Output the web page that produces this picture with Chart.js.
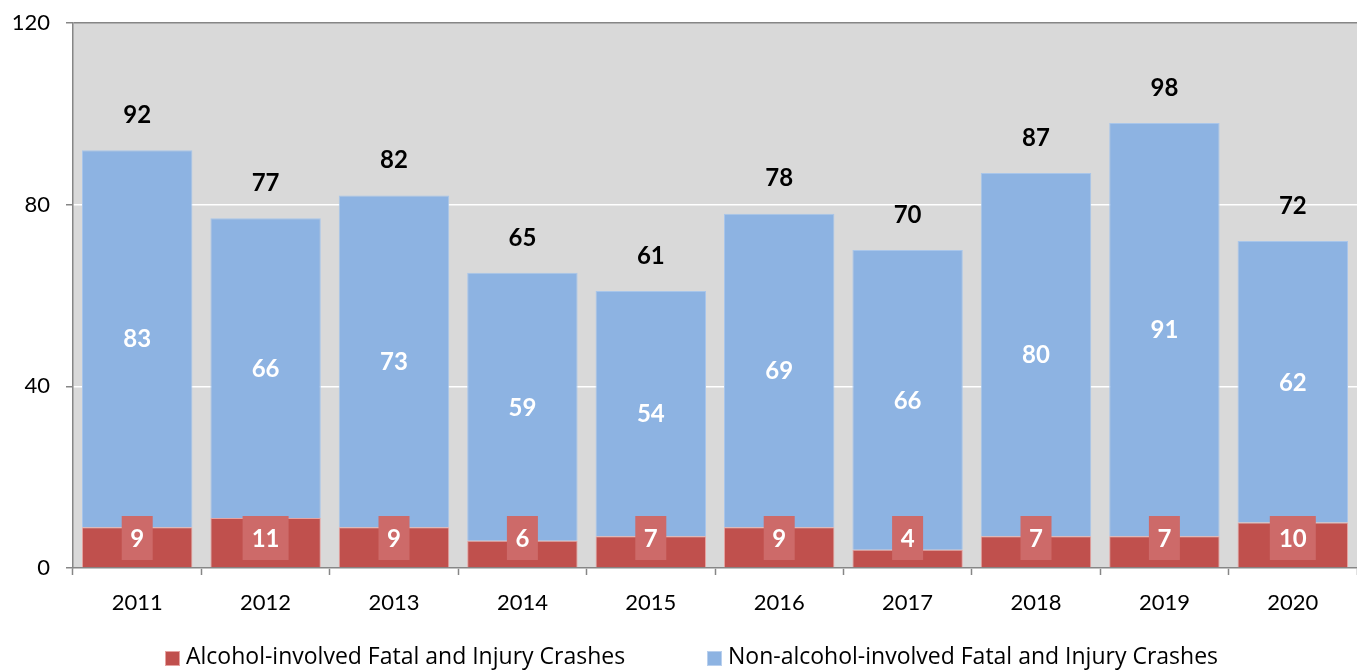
<!DOCTYPE html>
<html>
<head>
<meta charset="utf-8">
<script src="https://cdn.jsdelivr.net/npm/chart.js@4"></script>
<style>
  html, body { margin: 0; padding: 0; background: #fff; }
  #wrap { width: 1357px; height: 671px; }
</style>
</head>
<body>
<div id="wrap"><canvas id="crashChart"></canvas></div>
<script>
const years = ['2011', '2012', '2013', '2014', '2015', '2016', '2017', '2018', '2019', '2020'];
const alcohol = [9, 11, 9, 6, 7, 9, 4, 7, 7, 10];
const nonAlcohol = [83, 66, 73, 59, 54, 69, 66, 80, 91, 62];
const yTicks = [0, 40, 80, 120];
const seriesNames = ['Alcohol-involved Fatal and Injury Crashes', 'Non-alcohol-involved Fatal and Injury Crashes'];

const FONT = 'Lato, "Noto Sans", sans-serif';
const LEGEND_FONT = '"Open Sans", "Noto Sans", sans-serif';
const AXIS = '#868686';

// grey plot area behind the bars
const plotBackground = {
  id: 'plotBackground',
  beforeDraw(chart) {
    const { ctx, chartArea: a } = chart;
    ctx.save();
    ctx.fillStyle = '#d9d9d9';
    ctx.fillRect(a.left, a.top, a.right - a.left, a.bottom - a.top);
    ctx.restore();
  }
};

// value labels: red boxes near the base, white in blue segment, totals above
const barLabels = {
  id: 'barLabels',
  afterDatasetsDraw(chart) {
    const { ctx } = chart;
    const y = chart.scales.y;
    const red = chart.getDatasetMeta(0).data;
    ctx.save();
    ctx.textAlign = 'center';
    ctx.textBaseline = 'middle';
    ctx.font = 'bold 24px ' + FONT;
    years.forEach((yr, i) => {
      const x = red[i].x;
      // red label box
      const txt = String(alcohol[i]);
      const w = txt.length > 1 ? 46 : 31;
      const cy = y.getPixelForValue(0) - 30;
      ctx.fillStyle = '#cd6a69';
      ctx.fillRect(x - w / 2, cy - 22, w, 44);
      ctx.fillStyle = '#ffffff';
      ctx.fillText(txt, x, cy + 1);
      // blue label
      const mid = y.getPixelForValue(alcohol[i] + nonAlcohol[i] / 2);
      ctx.fillText(String(nonAlcohol[i]), x, mid + 1);
      // total
      const total = alcohol[i] + nonAlcohol[i];
      ctx.fillStyle = '#000000';
      ctx.fillText(String(total), x, y.getPixelForValue(total) - 35);
    });
    ctx.restore();
  }
};

// legend along the bottom
const bottomLegend = {
  id: 'bottomLegend',
  afterDraw(chart) {
    const { ctx } = chart;
    const items = [
      { x: 165, color: '#c0504d', border: '#e6a3a1', text: seriesNames[0] },
      { x: 707, color: '#8db3e2', border: '#b9d0ee', text: seriesNames[1] }
    ];
    ctx.save();
    ctx.font = '23px ' + LEGEND_FONT;
    ctx.textBaseline = 'middle';
    ctx.textAlign = 'left';
    items.forEach(it => {
      ctx.fillStyle = it.color;
      ctx.fillRect(it.x, 651, 15, 15);
      ctx.strokeStyle = it.border;
      ctx.lineWidth = 1;
      ctx.strokeRect(it.x + 0.5, 651.5, 14, 14);
      ctx.fillStyle = '#000';
      ctx.fillText(it.text, it.x + 21, 657);
    });
    ctx.restore();
  }
};

const ctx = document.getElementById('crashChart').getContext('2d');
const crashChart = new Chart(ctx, {
  type: 'bar',
  data: {
    labels: years,
    datasets: [{
      label: seriesNames[0],
      data: alcohol,
      backgroundColor: '#c0504d',
      borderColor: '#e6a3a1',
      borderWidth: 1
    }, {
      label: seriesNames[1],
      data: nonAlcohol,
      backgroundColor: '#8db3e2',
      borderColor: '#a9c6ea',
      borderWidth: 1
    }]
  },
  options: {
    responsive: true,
    maintainAspectRatio: false,
    animation: false,
    datasets: {
      bar: { barPercentage: 0.86, categoryPercentage: 1 }
    },
    layout: { padding: { top: 23, right: 0, left: 0, bottom: 0 } },
    plugins: {
      legend: { display: false },
      tooltip: { enabled: false }
    },
    scales: {
      x: {
        stacked: true,
        grid: { drawOnChartArea: false, tickLength: 7, tickColor: AXIS, tickWidth: 1.5 },
        border: { color: AXIS, width: 1.5 },
        ticks: { color: '#000', font: { family: FONT, size: 22 }, padding: 15 },
        afterFit(scale) { scale.height = 103; scale.paddingLeft = 0; scale.paddingRight = 0; }
      },
      y: {
        stacked: true,
        min: 0,
        max: 120,
        afterBuildTicks(scale) { scale.ticks = yTicks.map(v => ({ value: v })); },
        grid: {
          color: c => (c.tick && c.tick.value === 120 ? AXIS : '#ffffff'),
          lineWidth: 1.5,
          tickLength: 7,
          tickColor: AXIS
        },
        border: { color: AXIS, width: 1.5 },
        ticks: { color: '#000', font: { family: FONT, size: 22 }, padding: 16 },
        afterFit(scale) { scale.width = 73; scale.paddingTop = 0; scale.paddingBottom = 0; }
      }
    }
  },
  plugins: [plotBackground, barLabels, bottomLegend]
});
</script>
</body>
</html>
